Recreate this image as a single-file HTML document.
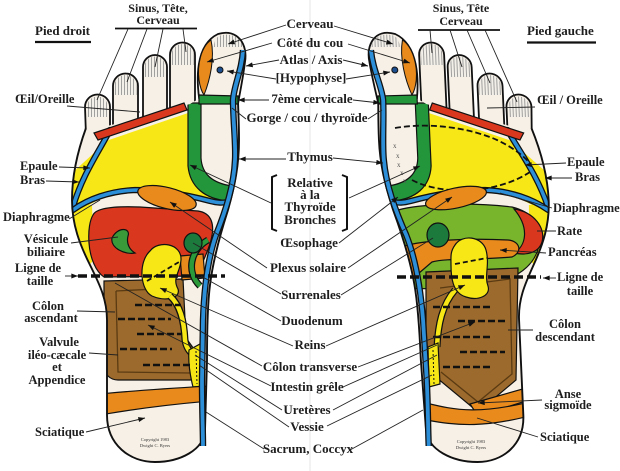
<!DOCTYPE html>
<html><head><meta charset="utf-8"><style>
html,body{margin:0;padding:0;background:#fff;}
svg{display:block;}
text{font-family:"Liberation Serif",serif;font-weight:bold;fill:#1e1e1e;}
.c text{font-size:13px;text-anchor:middle;}
.s text{font-size:12.5px;}
.m{text-anchor:middle;}
</style></head><body>
<svg width="620" height="471" viewBox="0 0 620 471" xmlns="http://www.w3.org/2000/svg">
<defs>
<pattern id="h" width="3" height="10" patternUnits="userSpaceOnUse"><rect width="3" height="10" fill="#f3efe9"/><line x1="1.5" y1="0" x2="1.5" y2="10" stroke="#8c8c8c" stroke-width="0.8"/></pattern>
<path id="bp" d="M86,128 C78,150 72,175 72,200 C72,225 80,245 90,265 C100,285 107,300 107,320 L107,415 C107,445 130,462 155,462 C180,462 204,450 205,430 L207,360 C207,320 208,300 210,285 C213,260 220,235 228,210 C235,185 239,165 239,140 C239,120 238,108 238,100 L200,98 L190,104 L100,128 Z"/>
<clipPath id="rc"><use href="#bp"/></clipPath>
<clipPath id="lc"><use href="#bp" transform="matrix(-1,0,0.045,1,611.65,0)"/></clipPath>
<marker id="a" viewBox="0 0 8 6" refX="8" refY="3" markerWidth="7" markerHeight="5" orient="auto" markerUnits="userSpaceOnUse"><path d="M0,0 L8,3 L0,6 Z" fill="#111"/></marker>
<g id="fA">
 <g fill="#f7f0e6" stroke="#111" stroke-width="1.8">
  <path d="M86,136 L85,107 A12.5,12.5 0 0 1 110,107 L110,130"/>
  <path d="M113,126 L113,86 A12.5,12.5 0 0 1 138,86 L138,121"/>
  <path d="M143,119 L143,67 A12,12 0 0 1 167,67 L167,113"/>
  <path d="M170,113 L170,55 A12.5,12.5 0 0 1 195,55 L195,109"/>
  <path d="M200,104 C196,80 195,45 218,34 C238,28 248,45 245,62 C243,78 240,92 238,104"/>
 </g>
 <g fill="url(#h)">
  <path d="M87,117 L87,107 A10.5,10.5 0 0 1 108,107 L108,117 Z"/>
  <path d="M114.5,95 L114.5,86 A11,11 0 0 1 136.5,86 L136.5,95 Z"/>
  <path d="M144.5,77 L144.5,67 A10.5,10.5 0 0 1 165.5,67 L165.5,77 Z"/>
  <path d="M171.5,65 L171.5,55 A11,11 0 0 1 193.5,55 L193.5,65 Z"/>
  <path d="M214,47 C214,40 217,36 222,35 C232,33 240,37 243,47 Z"/>
 </g>
 <path d="M211,40 C201,47 197,65 199,80 C200,87 202,92 204,95 C210,80 215,58 211,40 Z" fill="#e88a1c" stroke="#111" stroke-width="1"/>
 <circle cx="220" cy="70" r="3" fill="#1d4f8f" stroke="#111" stroke-width="1"/>
 <use href="#bp" fill="#f7f0e6"/>
 <g clip-path="url(#rc)">
  <path d="M100,143 L188,113 L188,165 C190,186 205,197 228,199 L228,204 L210,202 C190,198 165,192 140,191 C115,191 95,200 78,212 L70,212 L70,175 L95,152 Z" fill="#f7e716"/>
  <path d="M70,205 L92,205 L94,260 L86,268 L70,240 Z" fill="#f7e716"/>
  <path d="M188,103 L201,103 L201,158 C202,174 212,183 232,186 L228,201 C205,199 190,187 188,166 Z" fill="#23963c" stroke="#111" stroke-width="1.2"/>
  <g fill="none" stroke-linecap="round">
   <path d="M110,130 C100,150 82,175 73,207" stroke="#111" stroke-width="6.2"/>
   <path d="M110,130 C100,150 82,175 73,207" stroke="#2d8fd8" stroke-width="3.6"/>
   <path d="M73,210 C88,199 110,191 135,190 C165,190 195,197 210,201 C218,203 222,203 227,202" stroke="#111" stroke-width="6.2"/>
   <path d="M73,210 C88,199 110,191 135,190 C165,190 195,197 210,201 C218,203 222,203 227,202" stroke="#2d8fd8" stroke-width="3.6"/>
  </g>
 </g>
</g>
<g id="fB">
 <path d="M94,133 L184,103 L187,110 L98,140 Z" fill="#d9381e" stroke="#111" stroke-width="1.2"/>
 <path d="M86,128 C78,150 72,175 72,200 C72,225 80,245 90,265 C100,285 107,300 107,320 L107,415 C107,445 130,462 155,462 C180,462 204,450 205,430 L207,360 C207,320 208,300 210,285 C213,260 220,235 228,210 C235,185 239,165 239,140 C239,120 238,108 238,100" fill="none" stroke="#111" stroke-width="1.9"/>
 <path d="M199,95 L238,96 L238,104 L199,104 Z" fill="#23963c" stroke="#111" stroke-width="1.2"/>
 <path d="M243,50 C242,70 234,85 233,100 C233,120 236,145 235,160 C234,185 226,210 216,235 C208,258 204,290 203,320 L202,380 C202,410 203,430 203,446" fill="none" stroke="#111" stroke-width="6.4"/>
 <path d="M243,50 C242,70 234,85 233,100 C233,120 236,145 235,160 C234,185 226,210 216,235 C208,258 204,290 203,320 L202,380 C202,410 203,430 203,446" fill="none" stroke="#2d8fd8" stroke-width="3.8"/>
</g>
</defs>

<line x1="310" y1="0" x2="310" y2="471" stroke="#e6e6e6" stroke-width="1"/>

<use href="#fA"/>
<use href="#fA" transform="matrix(-1,0,0.045,1,611.65,0)"/>

<!-- right foot organs -->
<g clip-path="url(#rc)" stroke="#111" stroke-width="1.2">
 <path d="M93,215 C96,208 115,206 140,207 L198,211 C212,213 215,225 211,240 C207,255 200,268 196,276 L104,277 C96,272 90,258 89,243 C88,230 90,220 93,215 Z" fill="#d9381e"/>
 <path d="M112,238 C118,226 131,228 128,236 C126,244 130,250 135,253 C125,255 110,248 112,238 Z" fill="#3a9a3a"/>
 <path d="M104,281 L183,279 L186,338 L199,356 L201,380 L118,380 C110,380 104,374 104,366 Z" fill="#9c6a2c"/>
 <path d="M116,291 L176,288 M116,291 L118,372 L190,373" fill="none" stroke="#5a3a12" stroke-width="1.3"/>
 <path d="M180,256 L203,254 L205,278 L182,280 Z" fill="#e88a1c"/>
 <path d="M208,240 C190,250 186,272 200,286" fill="none" stroke="#111" stroke-width="7"/>
 <path d="M208,240 C190,250 186,272 200,286" fill="none" stroke="#2a9a3a" stroke-width="4.5"/>
 <ellipse cx="193" cy="243" rx="9" ry="10" fill="#1c7a3c"/>
 <path d="M150,251 C158,240 182,243 181,260 C180,273 172,278 178,289 C181,298 166,302 152,296 C140,290 138,262 150,251 Z" fill="#f7e716"/>
 <path d="M147,281 L179,262" fill="none" stroke-width="1.8" stroke-dasharray="5,3"/>
 <path d="M170,296 C180,305 184,320 185,340 C186,348 190,352 194,356" fill="none" stroke-width="7"/>
 <path d="M170,296 C180,305 184,320 185,340 C186,348 190,352 194,356" fill="none" stroke="#f7e716" stroke-width="4.5"/>
 <path d="M189,350 L200,344 L204,386 L193,387 C190,375 188,362 189,350 Z" fill="#f7e716"/>
 <path d="M196,351 L197,384" fill="none" stroke-width="1" stroke-dasharray="2,2"/>
 <g stroke-width="2.4" stroke-dasharray="7,3" fill="none">
  <path d="M135,305 L181,305 M118,319 L171,319 M137,334 L181,334 M120,349 L172,349 M143,365 L190,365"/>
 </g>
 <path d="M100,394 C140,390 175,388 210,386 L210,401 C175,404 140,408 100,415 Z" fill="#e88a1c"/>
</g>

<!-- left foot organs -->
<g clip-path="url(#lc)" stroke="#111" stroke-width="1.2">
 <path d="M395,128 C430,122 470,128 497,140 C510,146 520,153 528,161" fill="none" stroke-width="1.8" stroke-dasharray="6,3"/>
 <path d="M412,180 C440,195 495,195 530,172" fill="none" stroke-width="1.8" stroke-dasharray="6,3"/>
 <path d="M398,210 C420,204 470,202 512,207 C532,212 542,225 540,240 C538,258 528,270 510,278 C485,288 440,290 398,288 Z" fill="#78b52c"/>
 <path d="M514,209 C534,212 546,228 542,242 C539,252 528,256 514,253 C526,246 530,228 514,209 Z" fill="#d9381e"/>
 <path d="M426,272 L518,268 L516,380 L478,412 L437,378 L426,360 Z" fill="#9c6a2c"/>
 <path d="M440,288 L510,279 L512,374 L478,402 L441,372" fill="none" stroke="#5a3a12" stroke-width="1.3"/>
 <path d="M400,248 C415,240 470,238 508,240 C520,241 523,252 512,257 C480,260 445,258 432,262 C420,272 410,282 400,285 Z" fill="#e88a1c"/>
 <ellipse cx="438" cy="235" rx="11" ry="12" fill="#1c7a3c"/>
 <path d="M455,245 C462,234 482,236 486,250 C490,265 484,276 488,286 C491,296 478,301 466,297 C452,293 451,276 451,265 C451,257 450,252 455,245 Z" fill="#f7e716"/>
 <path d="M455,264 L487,258" fill="none" stroke-width="1.8" stroke-dasharray="5,3"/>
 <path d="M455,290 C442,305 438,325 437,347" fill="none" stroke-width="7"/>
 <path d="M455,290 C442,305 438,325 437,347" fill="none" stroke="#f7e716" stroke-width="4.5"/>
 <path d="M428,347 L438,343 L440,384 L429,387 Z" fill="#f7e716"/>
 <path d="M433,350 L434,384" fill="none" stroke-width="1" stroke-dasharray="2,2"/>
 <g stroke-width="2.4" stroke-dasharray="7,3" fill="none">
  <path d="M433,307 L490,307 M458,321 L507,321 M433,337 L490,337 M460,352 L505,352 M443,367 L490,367"/>
 </g>
 <path d="M470,404 L540,384 L542,396 L478,416 Z" fill="#e88a1c"/>
 <path d="M426,403 C455,410 480,416 545,398 L547,411 C485,430 455,425 426,420 Z" fill="#e88a1c"/>
</g>

<ellipse cx="167" cy="198" rx="30" ry="10.5" transform="rotate(14 167 198)" fill="#e88a1c" stroke="#111" stroke-width="1.2"/>
<ellipse cx="456" cy="198" rx="31" ry="10" transform="rotate(-12 456 198)" fill="#e88a1c" stroke="#111" stroke-width="1.2"/>

<use href="#fB"/>
<use href="#fB" transform="matrix(-1,0,0.045,1,611.65,0)"/>

<g font-size="7" style="font-weight:normal">
 <text x="393" y="148" style="font-weight:normal;fill:#555">x</text>
 <text x="396" y="158" style="font-weight:normal;fill:#555">x</text>
 <text x="397" y="167" style="font-weight:normal;fill:#555">x</text>
 <text x="400" y="175" style="font-weight:normal;fill:#555">x</text>
 <text x="403" y="183" style="font-weight:normal;fill:#555">x</text>
</g>

<!-- waist lines -->
<path d="M78,276 L225,276 M397,277 L541,277" stroke="#111" stroke-width="3.5" stroke-dasharray="9,4" fill="none"/>

<!-- copyright -->
<text x="155" y="441" font-size="4.5" class="m" style="font-weight:normal;fill:#333">Copyright 1983</text>
<text x="155" y="447" font-size="4.5" class="m" style="font-weight:normal;fill:#333">Dwight C. Byers</text>
<text x="471" y="443" font-size="4.5" class="m" style="font-weight:normal;fill:#333">Copyright 1983</text>
<text x="471" y="449" font-size="4.5" class="m" style="font-weight:normal;fill:#333">Dwight C. Byers</text>

<!-- header bars -->
<g stroke="#111" fill="none">
 <line x1="35" y1="42" x2="91" y2="42" stroke-width="2.2"/>
 <line x1="527" y1="42.5" x2="596" y2="42.5" stroke-width="2.2"/>
 <line x1="115" y1="28.5" x2="197" y2="28.5" stroke-width="1.8"/>
 <line x1="418" y1="30" x2="500" y2="30" stroke-width="1.8"/>
 <path d="M277,175 L272,177 L272,229 L277,231 M342,175 L347,177 L347,229 L342,231" stroke-width="2"/>
</g>

<!-- connectors -->
<g stroke="#222" stroke-width="0.9" fill="none">
 <path d="M128,29 L97,100 M147,29 L127,82 M163,29 L155,67 M183,29 L186,52"/>
 <path d="M430,30 L432,53 M450,30 L462,67 M467,30 L490,83 M485,30 L517,102"/>
 <path d="M286,25 L228,44" marker-end="url(#a)"/>
 <path d="M272,43 L207,62" marker-end="url(#a)"/>
 <path d="M279,60 L246,66" marker-end="url(#a)"/>
 <path d="M276,79 L227,71" marker-end="url(#a)"/>
 <path d="M269,100 L238,100" marker-end="url(#a)"/>
 <path d="M246,119 L232,108"/>
 <path d="M286,159 L239,159" marker-end="url(#a)"/>
 <path d="M271,203 L190,165" marker-end="url(#a)"/>
 <path d="M267,268 L170,202" marker-end="url(#a)"/>
 <path d="M281,294 L193,243"/>
 <path d="M281,321 L201,276"/>
 <path d="M293,346 L160,288" marker-end="url(#a)"/>
 <path d="M262,366 L115,283"/>
 <path d="M271,386 L148,325" marker-end="url(#a)"/>
 <path d="M282,410 L195,355"/>
 <path d="M289,427 L199,365"/>
 <path d="M264,449 L206,412"/>
 <path d="M334,26 L393,44" marker-end="url(#a)"/>
 <path d="M348,44 L410,63" marker-end="url(#a)"/>
 <path d="M343,60 L368,66" marker-end="url(#a)"/>
 <path d="M346,79 L390,72" marker-end="url(#a)"/>
 <path d="M353,100 L380,103" marker-end="url(#a)"/>
 <path d="M368,119 L382,110"/>
 <path d="M333,158 L383,163" marker-end="url(#a)"/>
 <path d="M349,198 L420,166" marker-end="url(#a)"/>
 <path d="M339,243 L398,197" marker-end="url(#a)"/>
 <path d="M348,268 L452,197" marker-end="url(#a)"/>
 <path d="M341,295 L433,238"/>
 <path d="M326,346 L465,285" marker-end="url(#a)"/>
 <path d="M358,367 L475,322" marker-end="url(#a)"/>
 <path d="M343,387 L437,345"/>
 <path d="M333,410 L437,355"/>
 <path d="M327,426 L432,375"/>
 <path d="M350,450 L423,410"/>
 <path d="M67,106 L140,112"/>
 <path d="M59,167 L90,168" marker-end="url(#a)"/>
 <path d="M46,181 L79,182" marker-end="url(#a)"/>
 <path d="M69,219 L100,200"/>
 <path d="M71,243 L118,237"/>
 <path d="M65,276 L78,276" marker-end="url(#a)"/>
 <path d="M77,311 L115,312"/>
 <path d="M89,353 L118,355"/>
 <path d="M86,432 L145,418" marker-end="url(#a)"/>
 <path d="M535,107 L487,108"/>
 <path d="M566,163 L525,165" marker-end="url(#a)"/>
 <path d="M572,178 L545,178" marker-end="url(#a)"/>
 <path d="M552,208 L500,193"/>
 <path d="M556,231 L537,231"/>
 <path d="M546,253 L500,250" marker-end="url(#a)"/>
 <path d="M556,278 L543,278" marker-end="url(#a)"/>
 <path d="M533,330 L508,330"/>
 <path d="M542,400 L478,403" marker-end="url(#a)"/>
 <path d="M538,437 L477,418"/>
</g>

<!-- headers -->
<text x="35" y="35" font-size="13">Pied droit</text>
<text x="527" y="35" font-size="13">Pied gauche</text>
<text x="158" y="12" font-size="12" class="m">Sinus, Tête,</text>
<text x="158" y="24" font-size="12" class="m">Cerveau</text>
<text x="461" y="12" font-size="12" class="m">Sinus, Tête</text>
<text x="461" y="25" font-size="12" class="m">Cerveau</text>

<!-- center labels -->
<g class="c">
 <text x="310" y="28">Cerveau</text>
 <text x="310" y="47">Côté du cou</text>
 <text x="311" y="64">Atlas / Axis</text>
 <text x="311" y="82">[Hypophyse]</text>
 <text x="312" y="103">7ème cervicale</text>
 <text x="307" y="122">Gorge / cou / thyroïde</text>
 <text x="310" y="161">Thymus</text>
 <text x="310" y="187">Relative</text>
 <text x="310" y="199">à la</text>
 <text x="310" y="211">Thyroïde</text>
 <text x="310" y="224">Bronches</text>
 <text x="309" y="247">Œsophage</text>
 <text x="308" y="272">Plexus solaire</text>
 <text x="311" y="299">Surrenales</text>
 <text x="312" y="325">Duodenum</text>
 <text x="310" y="349">Reins</text>
 <text x="310" y="371">Côlon transverse</text>
 <text x="307" y="391">Intestin grêle</text>
 <text x="307" y="414">Uretères</text>
 <text x="307" y="431">Vessie</text>
 <text x="308" y="453">Sacrum, Coccyx</text>
</g>

<!-- side labels -->
<g class="s">
 <text x="15" y="103">Œil/Oreille</text>
 <text x="20" y="170">Epaule</text>
 <text x="20" y="184">Bras</text>
 <text x="3" y="221">Diaphragme</text>
 <text x="46" y="243" class="m">Vésicule</text>
 <text x="46" y="256" class="m">biliaire</text>
 <text x="38" y="272" class="m">Ligne de</text>
 <text x="40" y="285" class="m">taille</text>
 <text x="48" y="310" class="m">Côlon</text>
 <text x="51" y="322" class="m">ascendant</text>
 <text x="59" y="346" class="m">Valvule</text>
 <text x="57" y="359" class="m">iléo-cæcale</text>
 <text x="57" y="371" class="m">et</text>
 <text x="57" y="384" class="m">Appendice</text>
 <text x="35" y="436">Sciatique</text>

 <text x="537" y="104">Œil / Oreille</text>
 <text x="567" y="166">Epaule</text>
 <text x="575" y="181">Bras</text>
 <text x="553" y="212">Diaphragme</text>
 <text x="557" y="235">Rate</text>
 <text x="548" y="256">Pancréas</text>
 <text x="557" y="281">Ligne de</text>
 <text x="580" y="295" class="m">taille</text>
 <text x="565" y="328" class="m">Côlon</text>
 <text x="565" y="341" class="m">descendant</text>
 <text x="568" y="398" class="m">Anse</text>
 <text x="568" y="409" class="m">sigmoïde</text>
 <text x="540" y="441">Sciatique</text>
</g>
</svg>
</body></html>
